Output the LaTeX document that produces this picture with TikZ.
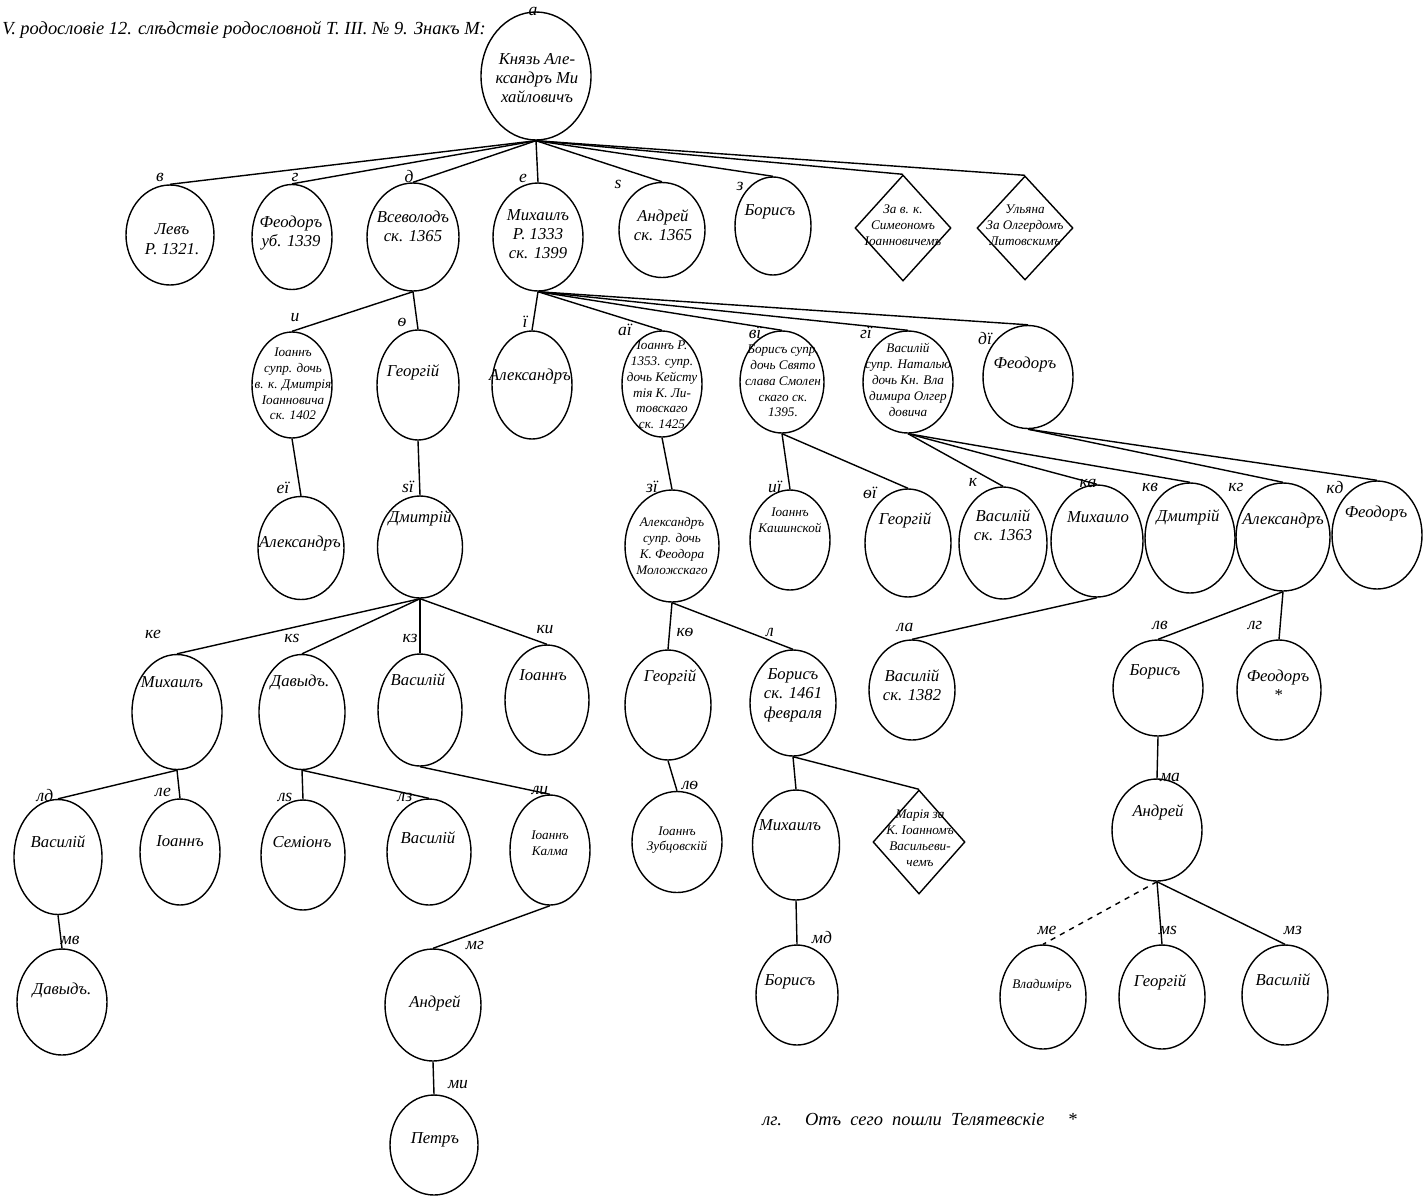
\documentclass[tikz,border=0pt]{standalone}
\usepackage{fontspec}
\setmainfont{Liberation Serif}
\usetikzlibrary{shapes,positioning,calc}

\begin{document}
\begin{tikzpicture}[x=0.02cm, y=-0.02cm]

	\tikzstyle{arrow} = [line width=0.8pt]
	\tikzstyle{arrow2} = [line width=0.8pt, dashed]
	\tikzstyle{circle1}=[ellipse, draw=black, line width=0.8pt, inner sep=0pt]
	\tikzstyle{diamond1}=[diamond, draw=black, line width=0.8pt, inner sep=0pt]
	\tikzstyle{node1}=[text=black, align=center, inner sep=0pt, font=\fontsize{9.5}{11}\selectfont\itshape]
	\tikzstyle{node2}=[text=black, align=center, inner sep=0pt, font=\fontsize{7.5}{9}\selectfont\itshape]
	\tikzstyle{node3}=[text=black, inner sep=0pt, font=\fontsize{10}{10}\selectfont\itshape]
	\tikzset{sz/.style 2 args={minimum width=#1*0.02cm, minimum height=#2*0.02cm}}

	\useasboundingbox (0,0) rectangle (1426,1201);

	\node [node1, anchor=west, font=\fontsize{10.5}{12}\selectfont\itshape] (h0) at (2,30) {V. родословіе 12. слѣдствіе родословной Т. III. № 9. Знакъ М:};

	% root
	\node [circle1, sz={110}{128}] (v1) at (536,76) {};
	\node [node1] (t1) at (537,78) {Князь Але-\\ксандръ Ми\\хайловичъ};
	\node [node3] (n1) at (533,11) {а};

	% first row
	\node [circle1, sz={88}{100}] (v2) at (170,235) {};
	\node [node1] (t2) at (172,239) {Левъ\\Р. 1321.};
	\node [node3] (n2) at (160,177) {в};

	\node [circle1, sz={80}{105}] (v3) at (292,237) {};
	\node [node1] (t3) at (291,233) {Феодоръ\\уб. 1339};
	\node [node3] (n3) at (295,177) {г};

	\node [circle1, sz={92}{108}] (v4) at (413,237) {};
	\node [node1] (t4) at (413,226) {Всеволодъ\\ск. 1365};
	\node [node3] (n4) at (409,176) {д};

	\node [circle1, sz={90}{108}] (v5) at (538,237) {};
	\node [node1] (t5) at (538,234) {Михаилъ\\Р. 1333\\ск. 1399};
	\node [node3] (n5) at (523,178) {е};

	\node [circle1, sz={86}{95}] (v6) at (662,230) {};
	\node [node1] (t6) at (663,225) {Андрей\\ск. 1365};
	\node [node3] (n6) at (618,184) {ѕ};

	\node [circle1, sz={76}{98}] (v7) at (773,226) {};
	\node [node1] (t7) at (770,212) {Борисъ};
	\node [node3] (n7) at (740,186) {з};

	\node [diamond1, sz={96}{106}] (v8) at (903,228) {};
	\node [node2] (t8) at (903,225) {За в. к.\\Симеономъ\\Іоанновичемъ};

	\node [diamond1, sz={96}{104}] (v9) at (1025,228) {};
	\node [node2] (t9) at (1025,225) {Ульяна\\За Олгердомъ\\Литовскимъ};

	% second row
	\node [circle1, sz={80}{106}] (v10) at (292,385) {};
	\node [node2] (t10) at (293,384) {Іоаннъ\\супр. дочь\\в. к. Дмитрія\\Іоанновича\\ск. 1402};
	\node [node3] (n10) at (295,318) {и};

	\node [circle1, sz={82}{110}] (v11) at (418,385) {};
	\node [node1] (t11) at (413,372) {Георгій};
	\node [node3] (n11) at (402,322) {ѳ};

	\node [circle1, sz={80}{108}] (v12) at (532,385) {};
	\node [node1] (t12) at (530,376) {Александръ};
	\node [node3] (n12) at (525,322) {ї};

	\node [circle1, sz={80}{106}] (v13) at (662,384) {};
	\node [node2] (t13) at (662,385) {Іоаннъ Р.\\1353. супр.\\дочь Кейсту\\тія К. Ли-\\товскаго\\ск. 1425};
	\node [node3] (n13) at (625,330) {аї};

	\node [circle1, sz={84}{102}] (v14) at (782,382) {};
	\node [node2] (t14) at (783,381) {Борисъ супр.\\дочь Свято\\слава Смолен\\скаго ск.\\1395.};
	\node [node3] (n14) at (755,333) {вї};

	\node [circle1, sz={90}{102}] (v15) at (908,382) {};
	\node [node2] (t15) at (908,380) {Василій\\супр. Наталью\\дочь Кн. Вла\\димира Олгер\\довича};
	\node [node3] (n15) at (866,333) {гї};

	\node [circle1, sz={90}{103}] (v16) at (1028,377) {};
	\node [node1] (t16) at (1025,364) {Феодоръ};
	\node [node3] (n16) at (985,338) {дї};

	% third row
	\node [circle1, sz={86}{103}] (v17) at (301,548) {};
	\node [node1] (t17) at (300,543) {Александръ};
	\node [node3] (n17) at (283,488) {еї};

	\node [circle1, sz={85}{102}] (v18) at (420,547) {};
	\node [node1] (t18) at (420,518) {Дмитрій};
	\node [node3] (n18) at (408,487) {ѕї};

	\node [circle1, sz={94}{112}] (v19) at (672,546) {};
	\node [node2] (t19) at (672,546) {Александръ\\супр. дочь\\К. Феодора\\Моложскаго};
	\node [node3] (n19) at (652,487) {зї};

	\node [circle1, sz={80}{100}] (v20) at (790,540) {};
	\node [node2] (t20) at (790,520) {Іоаннъ\\Кашинской};
	\node [node3] (n20) at (775,487) {иї};

	\node [circle1, sz={86}{108}] (v21) at (908,543) {};
	\node [node1] (t21) at (905,520) {Георгій};
	\node [node3] (n21) at (870,493) {ѳї};

	\node [circle1, sz={88}{112}] (v22) at (1003,543) {};
	\node [node1] (t22) at (1003,525) {Василій\\ск. 1363};
	\node [node3] (n22) at (973,482) {к};

	\node [circle1, sz={92}{112}] (v23) at (1097,541) {};
	\node [node1] (t23) at (1098,517) {Михаило};
	\node [node3] (n23) at (1088,483) {ка};

	\node [circle1, sz={90}{110}] (v24) at (1190,538) {};
	\node [node1] (t24) at (1188,517) {Дмитрій};
	\node [node3] (n24) at (1150,487) {кв};

	\node [circle1, sz={94}{108}] (v25) at (1283,537) {};
	\node [node1] (t25) at (1283,520) {Александръ};
	\node [node3] (n25) at (1236,487) {кг};

	\node [circle1, sz={90}{108}] (v26) at (1377,535) {};
	\node [node1] (t26) at (1376,513) {Феодоръ};
	\node [node3] (n26) at (1335,487) {кд};

	% fourth row
	\node [circle1, sz={90}{115}] (v27) at (177,712) {};
	\node [node1] (t27) at (172,682) {Михаилъ};
	\node [node3] (n27) at (153,634) {ке};

	\node [circle1, sz={86}{115}] (v28) at (302,712) {};
	\node [node1] (t28) at (300,682) {Давыдъ.};
	\node [node3] (n28) at (292,638) {кѕ};

	\node [circle1, sz={84}{112}] (v29) at (420,710) {};
	\node [node1] (t29) at (418,680) {Василій};
	\node [node3] (n29) at (410,638) {кз};

	\node [circle1, sz={84}{110}] (v30) at (547,700) {};
	\node [node1] (t30) at (543,675) {Іоаннъ};
	\node [node3] (n30) at (545,630) {ки};

	\node [circle1, sz={86}{110}] (v31) at (668,705) {};
	\node [node1] (t31) at (670,677) {Георгій};
	\node [node3] (n31) at (685,632) {кѳ};

	\node [circle1, sz={86}{106}] (v32) at (793,703) {};
	\node [node1] (t32) at (793,695) {Борисъ\\ск. 1461\\февраля};
	\node [node3] (n32) at (770,632) {л};

	\node [circle1, sz={86}{100}] (v33) at (912,690) {};
	\node [node1] (t33) at (912,685) {Василій\\ск. 1382};
	\node [node3] (n33) at (905,627) {ла};

	\node [circle1, sz={90}{96}] (v34) at (1158,688) {};
	\node [node1] (t34) at (1155,672) {Борисъ};
	\node [node3] (n34) at (1160,625) {лв};

	\node [circle1, sz={84}{100}] (v35) at (1279,690) {};
	\node [node1] (t35) at (1278,685) {Феодоръ\\*};
	\node [node3] (n35) at (1255,625) {лг};

	% fifth row
	\node [circle1, sz={88}{115}] (v36) at (58,857) {};
	\node [node1] (t36) at (58,842) {Василій};
	\node [node3] (n36) at (45,795) {лд};

	\node [circle1, sz={80}{106}] (v37) at (180,852) {};
	\node [node1] (t37) at (180,841) {Іоаннъ};
	\node [node3] (n37) at (163,792) {ле};

	\node [circle1, sz={84}{110}] (v38) at (303,855) {};
	\node [node1] (t38) at (302,842) {Семіонъ};
	\node [node3] (n38) at (285,797) {лѕ};

	\node [circle1, sz={84}{106}] (v39) at (429,852) {};
	\node [node1] (t39) at (428,838) {Василій};
	\node [node3] (n39) at (405,797) {лз};

	\node [circle1, sz={80}{110}] (v40) at (550,850) {};
	\node [node2] (t40) at (550,843) {Іоаннъ\\Калма};
	\node [node3] (n40) at (540,790) {ли};

	\node [circle1, sz={90}{101}] (v41) at (677,842) {};
	\node [node2] (t41) at (677,840) {Іоаннъ\\Зубцовскій};
	\node [node3] (n41) at (690,785) {лѳ};

	\node [circle1, sz={87}{110}] (v42) at (796,845) {};
	\node [node1] (t42) at (790,825) {Михаилъ};

	\node [diamond1, sz={92}{104}] (v43) at (919,842) {};
	\node [node2] (t43) at (920,838) {Марія за\\К. Іоанномъ\\Васильеви-\\чемъ};

	\node [circle1, sz={90}{102}] (v44) at (1157,830) {};
	\node [node1] (t44) at (1158,812) {Андрей};
	\node [node3] (n44) at (1170,777) {ма};

	% sixth row
	\node [circle1, sz={90}{106}] (v45) at (62,1002) {};
	\node [node1] (t45) at (62,990) {Давыдъ.};
	\node [node3] (n45) at (70,940) {мв};

	\node [circle1, sz={96}{112}] (v46) at (433,1005) {};
	\node [node1] (t46) at (435,1003) {Андрей};
	\node [node3] (n46) at (475,945) {мг};

	\node [circle1, sz={82}{100}] (v47) at (797,995) {};
	\node [node1] (t47) at (790,982) {Борисъ};
	\node [node3] (n47) at (822,937) {мд};

	\node [circle1, sz={86}{104}] (v48) at (1043,997) {};
	\node [node2] (t48) at (1042,985) {Владиміръ};
	\node [node3] (n48) at (1047,930) {ме};

	\node [circle1, sz={86}{104}] (v49) at (1162,997) {};
	\node [node1] (t49) at (1160,982) {Георгій};
	\node [node3] (n49) at (1168,930) {мѕ};

	\node [circle1, sz={86}{100}] (v50) at (1285,995) {};
	\node [node1] (t50) at (1283,980) {Василій};
	\node [node3] (n50) at (1293,930) {мз};

	\node [circle1, sz={88}{100}] (v51) at (434,1145) {};
	\node [node1] (t51) at (435,1140) {Петръ};
	\node [node3] (n51) at (458,1085) {ми};

	\node [node1, anchor=west, font=\fontsize{10.5}{12}\selectfont\itshape] (f0) at (762,1120) {лг.\quad\ Отъ\ \ сего\ \ пошли\ \ Телятевскіе\quad\ *};

	% lines
	\foreach \c in {2,...,9} \draw [arrow] (v1.south) -- (v\c.north);
	\foreach \c in {10,11} \draw [arrow] (v4.south) -- (v\c.north);
	\foreach \c in {12,...,16} \draw [arrow] (v5.south) -- (v\c.north);
	\draw [arrow] (v10.south) -- (v17.north);
	\draw [arrow] (v11.south) -- (v18.north);
	\draw [arrow] (v13.south) -- (v19.north);
	\foreach \c in {20,21} \draw [arrow] (v14.south) -- (v\c.north);
	\foreach \c in {22,23,24} \draw [arrow] (v15.south) -- (v\c.north);
	\foreach \c in {25,26} \draw [arrow] (v16.south) -- (v\c.north);
	\foreach \c in {27,...,30} \draw [arrow] (v18.south) -- (v\c.north);
	\foreach \c in {31,32} \draw [arrow] (v19.south) -- (v\c.north);
	\draw [arrow] (v23.south) -- (v33.north);
	\foreach \c in {34,35} \draw [arrow] (v25.south) -- (v\c.north);
	\foreach \c in {36,37} \draw [arrow] (v27.south) -- (v\c.north);
	\foreach \c in {38,39} \draw [arrow] (v28.south) -- (v\c.north);
	\draw [arrow] (v29.south) -- (v40.north);
	\draw [arrow] (v31.south) -- (v41.north);
	\foreach \c in {42,43} \draw [arrow] (v32.south) -- (v\c.north);
	\draw [arrow] (v34.south) -- (v44.north);
	\draw [arrow] (v36.south) -- (v45.north);
	\draw [arrow] (v40.south) -- (v46.north);
	\draw [arrow] (v42.south) -- (v47.north);
	\draw [arrow2] (v44.south) -- (v48.north);
	\foreach \c in {49,50} \draw [arrow] (v44.south) -- (v\c.north);
	\draw [arrow] (v46.south) -- (v51.north);

\end{tikzpicture}
\end{document}
